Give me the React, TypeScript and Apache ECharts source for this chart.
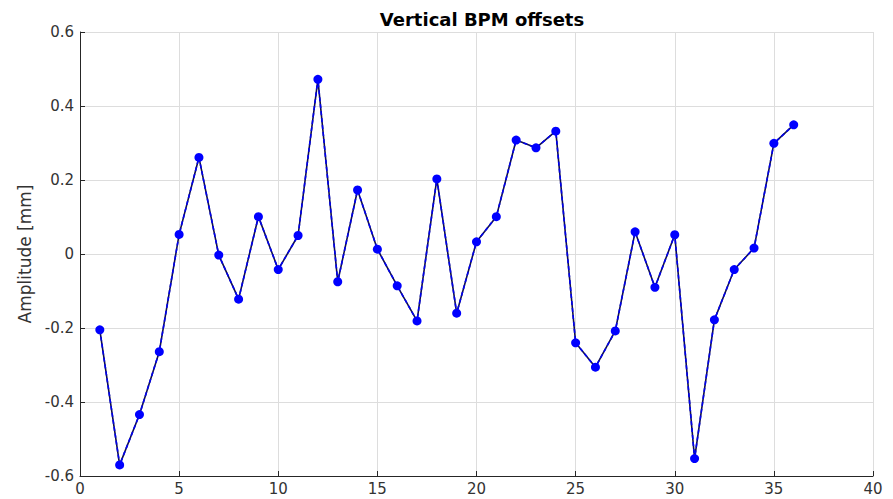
import React, { useEffect, useRef } from "react";
import * as echarts from "echarts";

const bpmIndex = [
  1, 2, 3, 4, 5, 6, 7, 8, 9, 10, 11, 12, 13, 14, 15, 16, 17, 18,
  19, 20, 21, 22, 23, 24, 25, 26, 27, 28, 29, 30, 31, 32, 33, 34, 35, 36,
];
const offsets = [
  -0.205, -0.57, -0.434, -0.264, 0.053, 0.261, -0.003, -0.122, 0.101, -0.042,
  0.05, 0.472, -0.075, 0.173, 0.013, -0.086, -0.181, 0.203, -0.16, 0.033,
  0.101, 0.308, 0.287, 0.332, -0.24, -0.306, -0.208, 0.06, -0.09, 0.052,
  -0.553, -0.178, -0.042, 0.016, 0.299, 0.349,
];
const titleText = "Vertical BPM offsets";
const yAxisName = "Amplitude [mm]";

export default function App() {
  const ref = useRef<HTMLDivElement>(null);
  useEffect(() => {
    document.body.style.margin = "0";
    const chart = echarts.init(ref.current!, undefined, { renderer: "svg" });
    const pts = bpmIndex.map((x, i) => [x, offsets[i]]);
    const font = "DejaVu Sans";
    chart.setOption({
      animation: false,
      backgroundColor: "#ffffff",
      title: {
        text: titleText,
        left: 477,
        top: 5,
        textAlign: "center",
        textStyle: { fontFamily: font, fontSize: 18, fontWeight: "bold", color: "#000000" },
      },
      grid: { left: 80, right: 20, top: 32, bottom: 23, containLabel: false },
      xAxis: {
        type: "value",
        min: 0,
        max: 40,
        interval: 5,
        axisLine: { show: true, onZero: false, lineStyle: { color: "#262626", width: 1 } },
        axisTick: { show: true, inside: true, length: 5, lineStyle: { color: "#262626" } },
        axisLabel: { fontFamily: font, fontSize: 15, color: "#333333", margin: 5 },
        splitLine: { show: true, lineStyle: { color: "#dddddd", width: 1 } },
      },
      yAxis: {
        type: "value",
        min: -0.6,
        max: 0.6,
        interval: 0.2,
        name: yAxisName,
        nameLocation: "middle",
        nameGap: 44,
        nameTextStyle: { fontFamily: font, fontSize: 17, color: "#333333" },
        axisLine: { show: true, lineStyle: { color: "#262626", width: 1 } },
        axisTick: { show: true, inside: true, length: 5, lineStyle: { color: "#262626" } },
        axisLabel: {
          fontFamily: font,
          fontSize: 15,
          color: "#333333",
          margin: 6,
          formatter: (v: number) => {
            const r = Math.round(v * 10) / 10;
            return r === 0 ? "0" : r.toFixed(1);
          },
        },
        splitLine: { show: true, lineStyle: { color: "#dddddd", width: 1 } },
      },
      series: [
        {
          type: "line",
          data: pts,
          symbol: "none",
          lineStyle: { color: "#101050", width: 1.6 },
          z: 2,
        },
        {
          type: "line",
          data: pts,
          symbol: "circle",
          symbolSize: 9,
          itemStyle: { color: "#0000ff" },
          lineStyle: { color: "#0000ee", width: 1.6, type: [4, 3] },
          z: 3,
        },
      ],
    });
    return () => chart.dispose();
  }, []);
  return <div ref={ref} style={{ width: 893, height: 499 }} />;
}
